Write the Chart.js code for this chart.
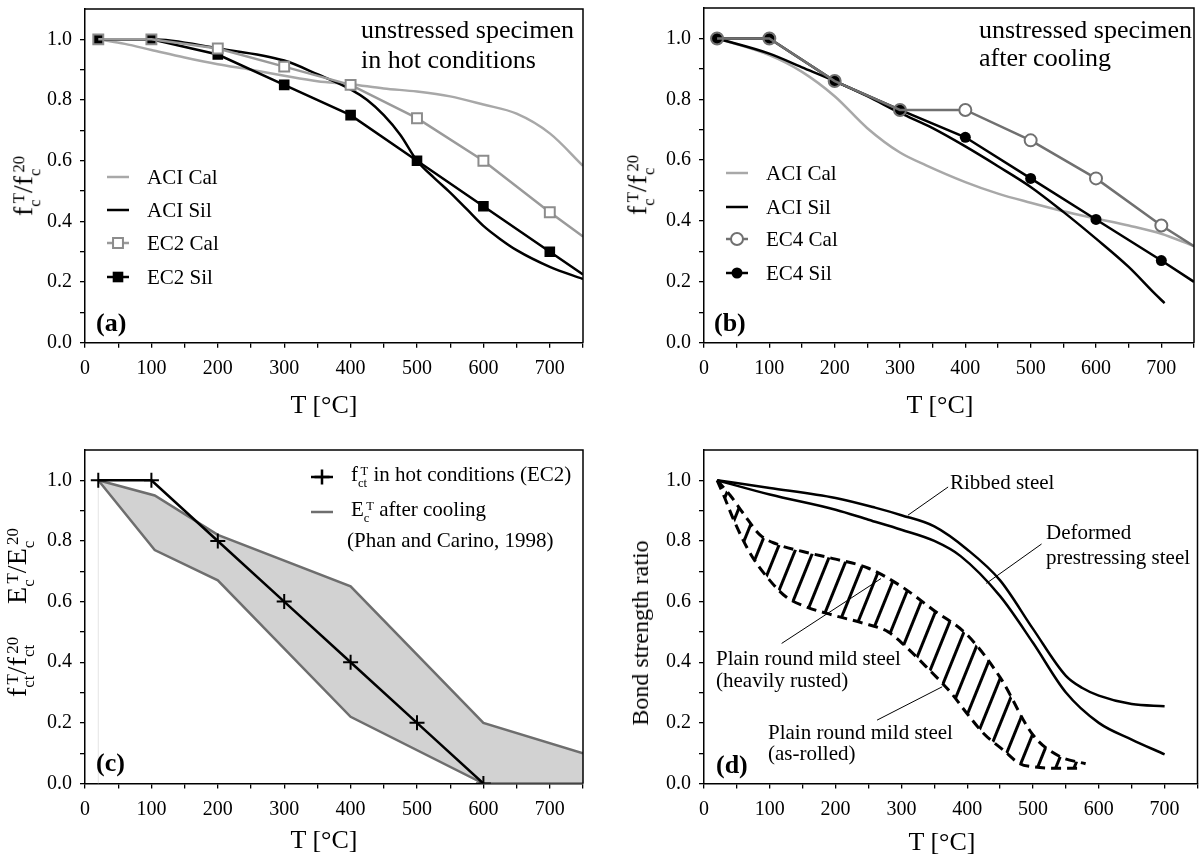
<!DOCTYPE html>
<html>
<head>
<meta charset="utf-8">
<script src="https://cdn.jsdelivr.net/npm/chart.js@4.4.1/dist/chart.umd.min.js"></script>
<style>
  body { margin: 0; background: #fff; width: 1202px; height: 865px; overflow: hidden; position: relative;
         font-family: "Liberation Serif", "Times New Roman", serif; color: #000; }
  canvas { position: absolute; left: 0; top: 0; }
  .t { position: absolute; white-space: nowrap; line-height: 1; transform: translateY(-50%); }
  .c { transform: translate(-50%, -50%); }
  .r { transform: translate(-50%, -50%) rotate(-90deg); }
  .ss { display: inline-block; font-size: 0.6em; line-height: 0.95; vertical-align: -0.45em; text-align: left; }
  .ss i { display: block; font-style: normal; }
  .ss i:first-child { padding-left: 0.2em; }
</style>
</head>
<body>
<canvas id="ca" width="1202" height="865"></canvas>
<canvas id="cb" width="1202" height="865"></canvas>
<canvas id="cc" width="1202" height="865"></canvas>
<canvas id="cd" width="1202" height="865"></canvas>

<!-- panel (a) -->
<div class="t" style="left:361px;top:30px;font-size:26px">unstressed specimen</div>
<div class="t" style="left:361px;top:60px;font-size:26px">in hot conditions</div>
<div class="t" style="left:96px;top:323px;font-size:26px;font-weight:bold">(a)</div>
<div class="t" style="left:147px;top:177px;font-size:21px">ACI Cal</div>
<div class="t" style="left:147px;top:210px;font-size:21px">ACI Sil</div>
<div class="t" style="left:147px;top:243px;font-size:21px">EC2 Cal</div>
<div class="t" style="left:147px;top:277px;font-size:21px">EC2 Sil</div>
<div class="t c" style="left:324px;top:405px;font-size:26px">T [°C]</div>
<div class="t r" style="left:26px;top:186px;font-size:28px">f<span class="ss"><i>T</i><i>c</i></span>/f<span class="ss"><i>20</i><i>c</i></span></div>

<!-- panel (b) -->
<div class="t" style="left:979px;top:30px;font-size:26px">unstressed specimen</div>
<div class="t" style="left:979px;top:58px;font-size:26px">after cooling</div>
<div class="t" style="left:714px;top:323px;font-size:26px;font-weight:bold">(b)</div>
<div class="t" style="left:766px;top:173px;font-size:21px">ACI Cal</div>
<div class="t" style="left:766px;top:207px;font-size:21px">ACI Sil</div>
<div class="t" style="left:766px;top:239px;font-size:21px">EC4 Cal</div>
<div class="t" style="left:766px;top:273px;font-size:21px">EC4 Sil</div>
<div class="t c" style="left:940px;top:405px;font-size:26px">T [°C]</div>
<div class="t r" style="left:640px;top:185px;font-size:28px">f<span class="ss"><i>T</i><i>c</i></span>/f<span class="ss"><i>20</i><i>c</i></span></div>

<!-- panel (c) -->
<div class="t" style="left:96px;top:763px;font-size:26px;font-weight:bold">(c)</div>
<div class="t" style="left:351px;top:477px;font-size:21px">f<span class="ss"><i>T</i><i>ct</i></span> in hot conditions (EC2)</div>
<div class="t" style="left:351px;top:512px;font-size:21px">E<span class="ss"><i>T</i><i>c</i></span> after cooling</div>
<div class="t" style="left:347px;top:540px;font-size:21px">(Phan and Carino, 1998)</div>
<div class="t c" style="left:324px;top:840px;font-size:26px">T [°C]</div>
<div class="t r" style="left:20px;top:566px;font-size:28px">E<span class="ss"><i>T</i><i>c</i></span>/E<span class="ss"><i>20</i><i>c</i></span></div>
<div class="t r" style="left:20px;top:667px;font-size:28px">f<span class="ss"><i>T</i><i>ct</i></span>/f<span class="ss"><i>20</i><i>ct</i></span></div>

<!-- panel (d) -->
<div class="t" style="left:716px;top:765px;font-size:26px;font-weight:bold">(d)</div>
<div class="t" style="left:950px;top:482px;font-size:21px">Ribbed steel</div>
<div class="t" style="left:1046px;top:532px;font-size:21px">Deformed</div>
<div class="t" style="left:1046px;top:557px;font-size:21px">prestressing steel</div>
<div class="t" style="left:716px;top:658px;font-size:21px">Plain round mild steel</div>
<div class="t" style="left:716px;top:680px;font-size:21px">(heavily rusted)</div>
<div class="t" style="left:768px;top:732px;font-size:21px">Plain round mild steel</div>
<div class="t" style="left:768px;top:753px;font-size:21px">(as-rolled)</div>
<div class="t c" style="left:942px;top:842px;font-size:26px">T [°C]</div>
<div class="t r" style="left:640px;top:633px;font-size:24px">Bond strength ratio</div>

<script>
const FONT = '"Liberation Serif", "Times New Roman", serif';

const xTicks = [0, 50, 100, 150, 200, 250, 300, 350, 400, 450, 500, 550, 600, 650, 700, 750];
const yTicks = [0, 0.1, 0.2, 0.3, 0.4, 0.5, 0.6, 0.7, 0.8, 0.9, 1.0];

// (a) unstressed, hot
const aAciCalT = [20, 60, 100, 150, 200, 250, 300, 350, 400, 450, 500, 550, 600, 650, 700, 750];
const aAciCal  = [1.0, 0.985, 0.965, 0.94, 0.918, 0.9, 0.88, 0.862, 0.852, 0.838, 0.828, 0.812, 0.785, 0.755, 0.69, 0.583];
const aAciSilT = [20, 100, 200, 300, 350, 400, 425, 450, 475, 500, 525, 550, 575, 600, 625, 650, 700, 750];
const aAciSil  = [1.0, 1.0, 0.97, 0.93, 0.885, 0.835, 0.8, 0.75, 0.685, 0.6, 0.545, 0.495, 0.44, 0.385, 0.342, 0.305, 0.25, 0.21];
const ecT = [20, 100, 200, 300, 400, 500, 600, 700, 750];
const aEc2Cal = [1.0, 1.0, 0.97, 0.91, 0.85, 0.74, 0.60, 0.43, 0.35];
const aEc2Sil = [1.0, 1.0, 0.95, 0.85, 0.75, 0.60, 0.45, 0.30, 0.225];

// (b) unstressed, after cooling
const bAciCalT = [20, 100, 150, 200, 250, 300, 340, 400, 450, 500, 550, 600, 650, 700, 750];
const bAciCal  = [1.0, 0.945, 0.89, 0.81, 0.705, 0.625, 0.583, 0.528, 0.49, 0.46, 0.432, 0.408, 0.385, 0.358, 0.317];
const bAciSilT = [20, 100, 150, 200, 250, 300, 350, 400, 450, 500, 550, 600, 650, 690, 705];
const bAciSil  = [1.0, 0.95, 0.905, 0.86, 0.81, 0.755, 0.705, 0.645, 0.58, 0.512, 0.43, 0.342, 0.249, 0.161, 0.13];
const bEc4Cal = [1.0, 1.0, 0.86, 0.765, 0.765, 0.665, 0.54, 0.385, 0.317];
const bEc4Sil = [1.0, 1.0, 0.86, 0.765, 0.675, 0.54, 0.405, 0.27, 0.2];

// (c) tensile strength / modulus
const cHotT = [20, 100, 200, 300, 400, 500, 600];
const cHot  = [1.0, 1.0, 0.8, 0.6, 0.4, 0.2, 0.0];
const cBandT  = [20, 105, 200, 400, 600, 750];
const cBandUp = [1.0, 0.95, 0.82, 0.65, 0.2, 0.1];
const cBandLo = [1.0, 0.77, 0.67, 0.22, 0.0, 0.0];
const cRefT = [20, 20];
const cRef  = [0.0, 1.0];

// (d) bond strength
const dRibT = [20, 100, 200, 260, 300, 350, 400, 450, 500, 550, 575, 600, 650, 700];
const dRib  = [1.0, 0.975, 0.942, 0.91, 0.885, 0.848, 0.772, 0.67, 0.51, 0.355, 0.315, 0.29, 0.262, 0.255];
const dDefT = [20, 100, 200, 250, 300, 350, 390, 450, 500, 550, 600, 650, 700];
const dDef  = [1.0, 0.953, 0.903, 0.87, 0.837, 0.8, 0.75, 0.618, 0.464, 0.3, 0.2, 0.145, 0.096];
const dUpT = [20, 40, 60, 85, 110, 150, 200, 250, 300, 350, 400, 450, 500, 540, 580];
const dUp  = [1.0, 0.95, 0.89, 0.82, 0.79, 0.765, 0.74, 0.71, 0.65, 0.57, 0.49, 0.35, 0.16, 0.09, 0.065];
const dLoT = [20, 30, 45, 70, 100, 125, 155, 200, 240, 280, 300, 340, 375, 400, 425, 455, 480, 500, 540, 575];
const dLo  = [1.0, 0.95, 0.87, 0.76, 0.67, 0.615, 0.583, 0.553, 0.53, 0.5, 0.465, 0.38, 0.3, 0.23, 0.165, 0.11, 0.065, 0.055, 0.05, 0.05];

function pts(xs, ys) { return xs.map((x, i) => ({ x: x, y: ys[i] })); }

function mark(ctx, k) {
  if (!k.shape) return;
  ctx.lineWidth = k.bw; ctx.strokeStyle = k.mc || k.color; ctx.fillStyle = k.fill || 'rgba(0,0,0,0)';
  ctx.beginPath();
  if (k.shape === 'rect') { const s = k.r * Math.SQRT1_2; ctx.rect(k.x - s, k.y - s, 2 * s, 2 * s); }
  else if (k.shape === 'circle') ctx.arc(k.x, k.y, k.r, 0, Math.PI * 2);
  else if (k.shape === 'cross') { ctx.moveTo(k.x - k.r, k.y); ctx.lineTo(k.x + k.r, k.y); ctx.moveTo(k.x, k.y - k.r); ctx.lineTo(k.x, k.y + k.r); }
  if (k.fill) ctx.fill();
  ctx.stroke();
}

// frame, legend keys, leader lines
const decor = {
  id: 'decor',
  afterDatasetsDraw(chart, args, o) {
    const ctx = chart.ctx, a = chart.chartArea, sx = chart.scales.x, sy = chart.scales.y;
    ctx.save();
    ctx.setLineDash([]);
    ctx.strokeStyle = '#000'; ctx.lineWidth = 1.5;
    ctx.beginPath(); ctx.moveTo(a.left, a.top); ctx.lineTo(a.right, a.top); ctx.lineTo(a.right, a.bottom); ctx.stroke();
    (o.leaders || []).forEach(l => {
      ctx.strokeStyle = '#000'; ctx.lineWidth = 1;
      ctx.beginPath();
      ctx.moveTo(sx.getPixelForValue(l[0]), sy.getPixelForValue(l[1]));
      ctx.lineTo(sx.getPixelForValue(l[2]), sy.getPixelForValue(l[3]));
      ctx.stroke();
    });
    (o.keys || []).forEach(k => {
      ctx.strokeStyle = k.color; ctx.lineWidth = 2.5;
      ctx.beginPath(); ctx.moveTo(k.x - 11, k.y); ctx.lineTo(k.x + 11, k.y); ctx.stroke();
      mark(ctx, k);
    });
    ctx.restore();
  }
};

function panel(id, box, datasets, extra) {
  return new Chart(document.getElementById(id), {
    type: 'line',
    data: { datasets: datasets },
    options: {
      responsive: false, animation: false, devicePixelRatio: 1, events: [],
      layout: { padding: { left: box.l - 60, top: box.t, right: 1202 - box.r, bottom: 865 - box.b - 60 } },
      plugins: { legend: { display: false }, tooltip: { enabled: false }, decor: extra },
      elements: { line: { borderWidth: 2.5, fill: false }, point: { radius: 0 } },
      scales: {
        x: {
          type: 'linear', min: 0, max: 750,
          afterBuildTicks: s => { s.ticks = xTicks.map(v => ({ value: v })); },
          afterFit: s => { s.height = 60; s.paddingLeft = 0; s.paddingRight = 0; },
          ticks: { autoSkip: false, maxRotation: 0, padding: 9, color: '#000', font: { family: FONT, size: 20 },
                   callback: v => (v % 100 === 0 && v < 750) ? String(v) : '' },
          grid: { drawOnChartArea: false, tickLength: 5, color: '#000', lineWidth: 1.3 },
          border: { color: '#000', width: 1.5 }
        },
        y: {
          type: 'linear', min: 0, max: 1.1,
          afterBuildTicks: s => { s.ticks = yTicks.map(v => ({ value: v })); },
          afterFit: s => { s.width = 60; s.paddingTop = 0; s.paddingBottom = 0; },
          ticks: { autoSkip: false, padding: 8, color: '#000', font: { family: FONT, size: 20 },
                   callback: v => (Math.round(v * 10) % 2 === 0) ? v.toFixed(1) : '' },
          grid: { drawOnChartArea: false, tickLength: 5, color: '#000', lineWidth: 1.3 },
          border: { color: '#000', width: 1.5 }
        }
      }
    },
    plugins: [decor]
  });
}

const smooth = { cubicInterpolationMode: 'monotone', pointRadius: 0 };
const onlyTo700 = r => c => (c.raw && c.raw.x <= 700 ? r : 0);

// (a)
panel('ca', { l: 85, r: 583, t: 8, b: 342.7 }, [
  { data: pts(ecT, aEc2Cal), borderColor: '#9a9a9a', borderWidth: 2.5, tension: 0,
    pointStyle: 'rect', pointRadius: onlyTo700(7), pointBorderWidth: 2, pointBorderColor: '#8c8c8c',
    pointBackgroundColor: c => (aEc2Cal[c.dataIndex] === aEc2Sil[c.dataIndex] ? 'rgba(0,0,0,0)' : '#fff') },
  { data: pts(ecT, aEc2Sil), borderColor: '#000', borderWidth: 2.5, tension: 0,
    pointStyle: 'rect', pointRadius: onlyTo700(7.5), pointBorderWidth: 0, pointBackgroundColor: '#000' },
  Object.assign({ data: pts(aAciSilT, aAciSil), borderColor: '#000' }, smooth),
  Object.assign({ data: pts(aAciCalT, aAciCal), borderColor: '#a8a8a8' }, smooth)
], { keys: [
  { x: 118, y: 177, color: '#a8a8a8' },
  { x: 118, y: 210, color: '#000' },
  { x: 118, y: 243, color: '#9a9a9a', mc: '#8c8c8c', shape: 'rect', r: 7, bw: 2, fill: '#fff' },
  { x: 118, y: 277, color: '#000', shape: 'rect', r: 7.5, bw: 0.01, fill: '#000' }
] });

// (b)
panel('cb', { l: 704, r: 1197.5, t: 8, b: 342.7 }, [
  { data: pts(ecT, bEc4Cal), borderColor: '#707070', borderWidth: 2.5, tension: 0,
    pointStyle: 'circle', pointRadius: onlyTo700(6), pointBorderWidth: 2, pointBorderColor: '#707070',
    pointBackgroundColor: c => (bEc4Cal[c.dataIndex] === bEc4Sil[c.dataIndex] ? 'rgba(0,0,0,0)' : '#fff') },
  { data: pts(ecT, bEc4Sil), borderColor: '#000', borderWidth: 2.5, tension: 0,
    pointStyle: 'circle', pointRadius: onlyTo700(5.5), pointBorderWidth: 0, pointBackgroundColor: '#000' },
  Object.assign({ data: pts(bAciSilT, bAciSil), borderColor: '#000' }, smooth),
  Object.assign({ data: pts(bAciCalT, bAciCal), borderColor: '#a8a8a8' }, smooth)
], { keys: [
  { x: 737, y: 173, color: '#a8a8a8' },
  { x: 737, y: 207, color: '#000' },
  { x: 737, y: 239, color: '#707070', shape: 'circle', r: 6, bw: 2, fill: '#fff' },
  { x: 737, y: 273, color: '#000', shape: 'circle', r: 5.5, bw: 0.01, fill: '#000' }
] });

// (c)  lower edge listed before the upper one so the fill never covers it
panel('cc', { l: 85, r: 583, t: 450, b: 783.5 }, [
  { data: pts(cHotT, cHot), borderColor: '#000', borderWidth: 2.5, tension: 0,
    pointStyle: 'cross', pointRadius: 7.5, pointBorderWidth: 2, pointBorderColor: '#000' },
  { data: pts(cBandT, cBandLo), borderColor: '#6e6e6e', borderWidth: 2.5, tension: 0, pointRadius: 0 },
  { data: pts(cBandT, cBandUp), borderColor: '#6e6e6e', borderWidth: 2.5, tension: 0,
    fill: '-1', backgroundColor: '#d2d2d2', pointRadius: 0 },
  { data: pts(cRefT, cRef), borderColor: '#e4e4e4', borderWidth: 1, pointRadius: 0 }
], { keys: [
  { x: 322, y: 477, color: '#000', shape: 'cross', r: 7.5, bw: 2.5 },
  { x: 322, y: 512, color: '#6e6e6e' }
] });

// (d)
const hatchTile = document.createElement('canvas');
hatchTile.width = 17; hatchTile.height = 17;
const ht = hatchTile.getContext('2d');
ht.fillStyle = '#000'; ht.fillRect(7, 0, 3, 17);
const hatch = document.getElementById('cd').getContext('2d').createPattern(hatchTile, 'repeat');
hatch.setTransform(new DOMMatrix().rotate(22));

panel('cd', { l: 704, r: 1197.5, t: 450, b: 783.5 }, [
  Object.assign({ data: pts(dRibT, dRib), borderColor: '#000' }, smooth),
  Object.assign({ data: pts(dDefT, dDef), borderColor: '#000' }, smooth),
  Object.assign({ data: pts(dLoT, dLo), borderColor: '#000', borderWidth: 3, borderDash: [10, 6] }, smooth),
  Object.assign({ data: pts(dUpT, dUp), borderColor: '#000', borderWidth: 3, borderDash: [10, 6],
                  fill: '-1', backgroundColor: hatch }, smooth)
], { leaders: [
  [310, 0.885, 371, 0.978],
  [429, 0.66, 513, 0.79],
  [118, 0.462, 269, 0.676],
  [263, 0.209, 362, 0.319]
] });
</script>
</body>
</html>
